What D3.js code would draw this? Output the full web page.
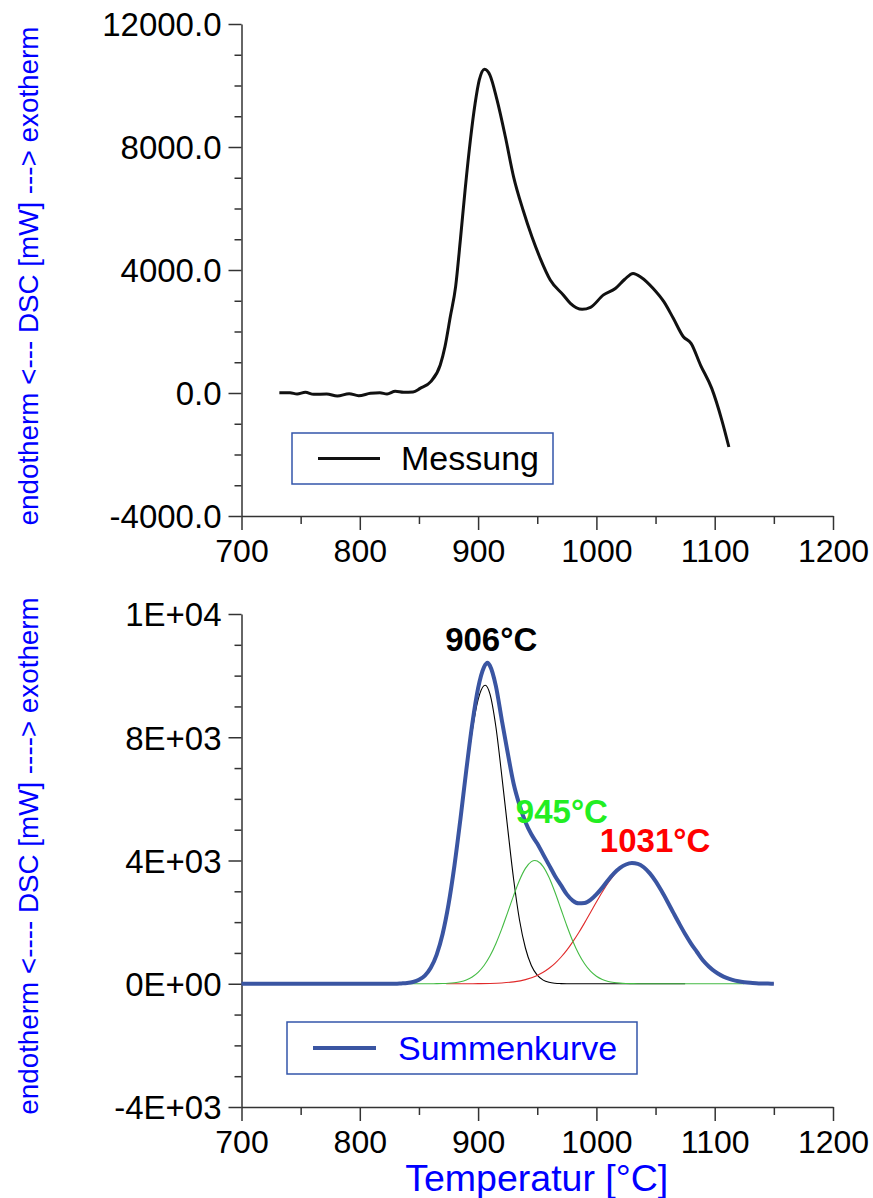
<!DOCTYPE html>
<html>
<head>
<meta charset="utf-8">
<script src="https://cdn.jsdelivr.net/npm/d3@7"></script>
<style>
  html, body { margin: 0; padding: 0; background: #fff; }
  svg { display: block; font-family: "Liberation Sans", Arial, Helvetica, sans-serif; }
</style>
</head>
<body>
<svg id="chart" width="873" height="1198"></svg>
<script>
// ---------------- DATA ----------------
// Top panel: measured DSC curve "Messung"
const messTemps = [732, 741, 747, 754, 761, 772, 781, 791, 799, 809, 817, 823, 830, 837, 845,
  851, 860, 868, 872, 876.5, 881, 885, 889, 893.5, 897.5, 901, 905.5, 910, 916, 923, 930, 938,
  945.5, 952.5, 961, 972, 978, 988, 995, 1006, 1016, 1024, 1031, 1038, 1048, 1057, 1065,
  1073.5, 1080, 1088, 1097.5, 1106, 1112];
const messValues = [10, 10, -33, 22, -43, -33, -98, -22, -87, -11, 10, -33, 54, 22, 33,
  150, 370, 910, 1510, 2480, 3460, 4975, 6600, 8230, 9420, 10180, 10530, 10340, 9530, 8340, 7030, 5950,
  5080, 4380, 3675, 3190, 2915, 2720, 2785, 3190, 3400, 3700, 3890, 3760, 3400, 2970, 2430,
  1830, 1615, 910, 150, -880, -1756];

// Bottom panel: sum curve "Summenkurve"
const sumTemps = [700, 750, 800, 830, 835, 840, 845, 850, 855, 860, 865, 870, 875, 880, 885, 890, 895,
  900, 905, 908, 910, 915, 920, 925, 930, 935, 940, 945, 950, 955, 960, 965, 970, 975, 980, 985,
  990, 995, 1000, 1005, 1010, 1015, 1020, 1025, 1030, 1035, 1040, 1045, 1050, 1055, 1060, 1065,
  1070, 1075, 1080, 1085, 1090, 1095, 1100, 1105, 1110, 1115, 1120, 1125, 1130, 1135, 1140, 1145, 1150];
const sumValues = [0, 0, 0, 0, 10, 23, 56, 126, 265, 518, 947, 1617, 2576, 3834, 5326, 6925, 8415,
  9594, 10277, 10420, 10320, 9667, 8566, 7500, 6500, 5800, 5250, 4850, 4550, 4200, 3850, 3500, 3200, 2900, 2700, 2610,
  2620, 2720, 2900, 3120, 3370, 3590, 3760, 3870, 3915, 3890, 3782, 3590, 3330, 3015, 2670, 2310,
  1955, 1615, 1305, 1030, 760, 560, 400, 280, 190, 125, 80, 50, 30, 18, 10, 5, 2];

// Peak 1 (906 °C), black
const peak1Temps = [830, 840, 845, 850, 855, 860, 865, 870, 875, 880, 885, 890, 895, 900, 905, 906,
  910, 915, 920, 925, 930, 935, 940, 945, 950, 955, 960, 965, 970, 975, 1000, 1040, 1075];
const peak1Values = [0, 23, 56, 126, 265, 517, 944, 1610, 2560, 3800, 5260, 6800, 8195, 9220, 9675, 9690,
  9410, 8350, 6760, 5050, 3400, 2070, 1160, 593, 277, 118, 46, 16, 5, 0, 0, 0, 0];

// Peak 2 (945 °C), green
const peak2Temps = [842, 860, 865, 870, 875, 880, 885, 890, 895, 900, 905, 910, 915, 920, 925, 930, 935,
  940, 945, 948, 950, 955, 960, 965, 970, 975, 980, 985, 990, 995, 1000, 1005, 1010, 1015, 1020,
  1025, 1030, 1035, 1080, 1125];
const peak2Values = [0, 1, 3, 7, 16, 34, 66, 124, 220, 370, 592, 900, 1300, 1780, 2316, 2860, 3360,
  3744, 3963, 4000, 3984, 3802, 3447, 2968, 2426, 1884, 1388, 972, 647, 408, 245, 140, 75, 39, 19,
  9, 4, 0, 0, 0];

// Peak 3 (1031 °C), red
const peak3Temps = [873, 890, 900, 910, 920, 930, 940, 950, 955, 960, 965, 970, 975, 980, 985, 990, 995,
  1000, 1005, 1010, 1015, 1020, 1025, 1031, 1035, 1040, 1045, 1050, 1055, 1060, 1065, 1070, 1075,
  1080, 1085, 1090, 1095, 1100, 1105, 1110, 1115, 1120, 1125, 1130, 1135, 1140, 1145, 1150];
const peak3Values = [0, 1, 4, 10, 26, 61, 134, 270, 372, 502, 663, 860, 1091, 1358, 1655, 1976, 2313,
  2652, 2978, 3279, 3536, 3736, 3868, 3925, 3896, 3782, 3587, 3325, 3013, 2668, 2308, 1953, 1613,
  1304, 1029, 760, 560, 400, 280, 190, 125, 80, 50, 30, 18, 10, 5, 2];

// Axis ticks / labels
const xTicks = [700, 800, 900, 1000, 1100, 1200];
const xMinorTicks = [750, 850, 950, 1050, 1150];
const yTicks = [-4000, 0, 4000, 8000, 12000];
const yMinorTicks = [-3000, -2000, -1000, 1000, 2000, 3000, 5000, 6000, 7000, 9000, 10000, 11000];
const yTickLabelsTop = ["-4000.0", "0.0", "4000.0", "8000.0", "12000.0"];
const yTickLabelsBottom = ["-4E+03", "0E+00", "4E+03", "8E+03", "1E+04"];

const peakLabels = ["906°C", "945°C", "1031°C"];
const peakLabelColors = ["#000000", "#22ee22", "#ff0000"];

const yTitleTop = "endotherm <--- DSC [mW] ---> exotherm";
const yTitleBottom = "endotherm <---- DSC [mW] ----> exotherm";
const xTitle = "Temperatur [°C]";
const legendTop = "Messung";
const legendBottom = "Summenkurve";

// ---------------- LAYOUT ----------------
const svg = d3.select("#chart");
const X0 = 241.5, X1 = 833;
const panels = [
  { top: 24, bottom: 516 },
  { top: 614, bottom: 1107 }
];
const x = d3.scaleLinear().domain([700, 1200]).range([X0, X1]);
const yTop = d3.scaleLinear().domain([-4000, 12000]).range([panels[0].bottom, panels[0].top]);
const yBot = d3.scaleLinear().domain([-4000, 12000]).range([panels[1].bottom, panels[1].top]);

const FONT = "'Liberation Sans', Arial, Helvetica, sans-serif";
const axisColor = "#333";

function drawAxes(yScale, bottomY, yLabels) {
  const gyMin = svg.append("g").attr("transform", `translate(${X0},0)`)
    .call(d3.axisLeft(yScale).tickValues(yMinorTicks).tickSize(7).tickSizeOuter(0).tickFormat(""));
  gyMin.select(".domain").remove();
  const gy = svg.append("g").attr("transform", `translate(${X0},0)`)
    .call(d3.axisLeft(yScale).tickValues(yTicks).tickSize(13).tickSizeOuter(0)
      .tickPadding(7).tickFormat((d, i) => yLabels[i]));
  gy.selectAll("text").attr("font-size", 33).attr("font-family", FONT).attr("fill", "#000")
    .attr("dy", "0.36em");
  const gxMin = svg.append("g").attr("transform", `translate(0,${bottomY})`)
    .call(d3.axisBottom(x).tickValues(xMinorTicks).tickSize(8).tickSizeOuter(0).tickFormat(""));
  gxMin.select(".domain").remove();
  const gx = svg.append("g").attr("transform", `translate(0,${bottomY})`)
    .call(d3.axisBottom(x).tickValues(xTicks).tickSize(14).tickSizeOuter(0).tickPadding(9)
      .tickFormat(d3.format("d")));
  gx.selectAll("text").attr("font-size", 32).attr("font-family", FONT).attr("fill", "#000");
  [gy, gx, gyMin, gxMin].forEach(g => {
    g.selectAll(".tick line").attr("stroke", axisColor).attr("stroke-width", 1.5);
    g.selectAll(".domain").attr("stroke", axisColor).attr("stroke-width", 1.5);
  });
}

drawAxes(yTop, panels[0].bottom, yTickLabelsTop);
drawAxes(yBot, panels[1].bottom, yTickLabelsBottom);

// y titles
[[yTitleTop, 276], [yTitleBottom, 856]].forEach(([t, cy]) => {
  svg.append("text").text(t)
    .attr("transform", `translate(28,${cy}) rotate(-90)`)
    .attr("text-anchor", "middle").attr("dominant-baseline", "central")
    .attr("font-size", 27.8).attr("font-family", FONT).attr("fill", "#0000ff");
});

// x title
svg.append("text").text(xTitle)
  .attr("x", (X0 + X1) / 2 - 0.5).attr("y", 1191)
  .attr("text-anchor", "middle").attr("font-size", 37.5).attr("font-family", FONT).attr("fill", "#0000ff");

// ---------------- TOP CURVE ----------------
const mess = messTemps.map((t, i) => [t, messValues[i]]);
svg.append("path").datum(mess)
  .attr("fill", "none").attr("stroke", "#111").attr("stroke-width", 3).attr("stroke-linejoin", "round")
  .attr("d", d3.line().x(d => x(d[0])).y(d => yTop(d[1])).curve(d3.curveMonotoneX));

// legend top
const lgT = svg.append("g");
lgT.append("rect").attr("x", 292).attr("y", 433).attr("width", 261).attr("height", 51)
  .attr("fill", "#fff").attr("stroke", "#3355aa").attr("stroke-width", 1.5);
lgT.append("line").attr("x1", 318).attr("x2", 380).attr("y1", 458.5).attr("y2", 458.5)
  .attr("stroke", "#111").attr("stroke-width", 3);
lgT.append("text").text(legendTop).attr("x", 401).attr("y", 470)
  .attr("font-size", 34).attr("font-family", FONT).attr("fill", "#000");

// ---------------- BOTTOM CURVES ----------------
const lineB = d3.line().x(d => x(d[0])).y(d => yBot(d[1])).curve(d3.curveMonotoneX);
const comp = [
  [peak1Temps, peak1Values, "#000000"],
  [peak3Temps, peak3Values, "#e02a2a"],
  [peak2Temps, peak2Values, "#44bb44"]
];
comp.forEach(([ts, vs, c]) => {
  svg.append("path").datum(ts.map((t, i) => [t, vs[i]]))
    .attr("fill", "none").attr("stroke", c).attr("stroke-width", 1.1)
    .attr("d", lineB);
});
svg.append("path").datum(sumTemps.map((t, i) => [t, sumValues[i]]))
  .attr("fill", "none").attr("stroke", "#3a55a2").attr("stroke-width", 4).attr("stroke-linejoin", "round")
  .attr("d", lineB);

// peak labels (positioned relative to each peak's maximum)
const peakSeries = [[peak1Temps, peak1Values], [peak2Temps, peak2Values], [peak3Temps, peak3Values]];
const labelOffsets = [[6, -34], [27, -38], [22, -11]];
peakSeries.forEach(([ts, vs], i) => {
  const m = d3.maxIndex(vs);
  svg.append("text").text(peakLabels[i])
    .attr("x", x(ts[m]) + labelOffsets[i][0]).attr("y", yBot(vs[m]) + labelOffsets[i][1])
    .attr("text-anchor", "middle").attr("font-size", 33).attr("font-weight", "bold")
    .attr("font-family", FONT).attr("fill", peakLabelColors[i]);
});

// legend bottom
const lgB = svg.append("g");
lgB.append("rect").attr("x", 287).attr("y", 1022).attr("width", 350).attr("height", 52)
  .attr("fill", "#fff").attr("stroke", "#3355aa").attr("stroke-width", 1.5);
lgB.append("line").attr("x1", 313).attr("x2", 376).attr("y1", 1048).attr("y2", 1048)
  .attr("stroke", "#3a55a2").attr("stroke-width", 4);
lgB.append("text").text(legendBottom).attr("x", 398).attr("y", 1060)
  .attr("font-size", 34).attr("font-family", FONT).attr("fill", "#0000ff");
</script>
</body>
</html>
